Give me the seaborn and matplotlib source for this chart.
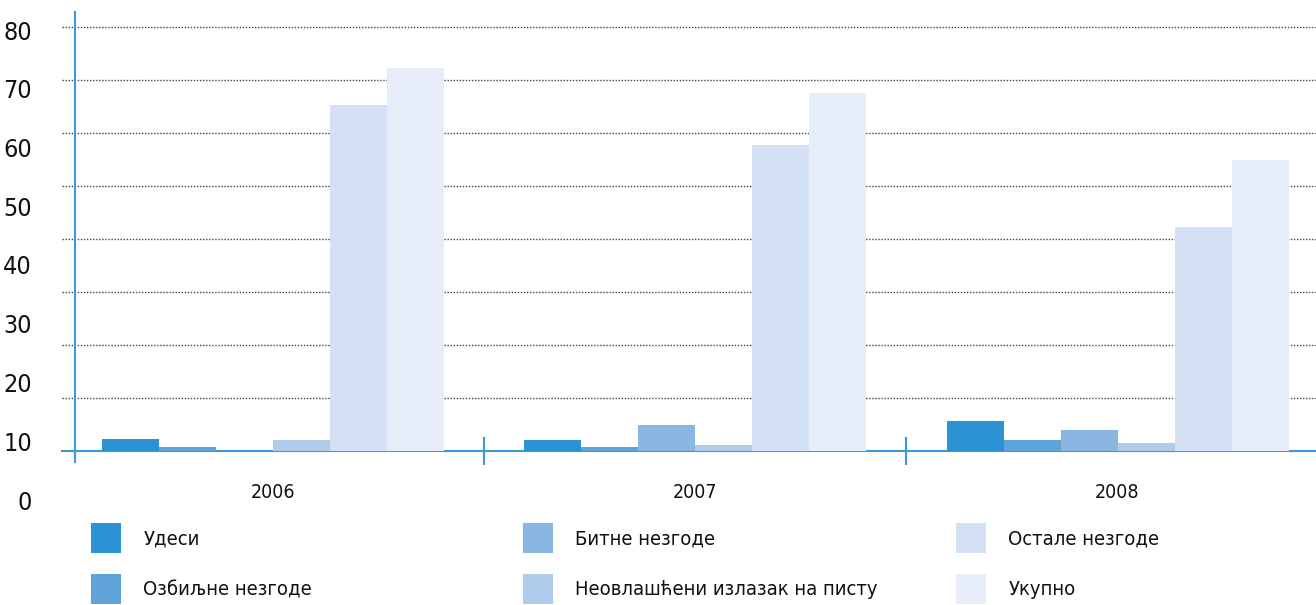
import numpy as np
import pandas as pd
import matplotlib
matplotlib.use("Agg")
import matplotlib.pyplot as plt
from matplotlib.patches import Patch
import seaborn as sns

years = ["2006", "2007", "2008"]
series = ["Удеси", "Озбиљне незгоде", "Битне незгоде",
          "Неовлашћени излазак на писту", "Остале незгоде", "Укупно"]
udesi = [2.3, 2.1, 5.7]
ozbiljne = [0.8, 0.8, 2.1]
bitne = [0.0, 4.9, 4.0]
neovlasceni = [2.0, 1.1, 1.5]
ostale = [65.3, 57.7, 42.3]
ukupno = [72.3, 67.5, 54.9]
ytick_values = [0, 10, 20, 30, 40, 50, 60, 70, 80]
colors = ["#2b93d4", "#60a3d9", "#8ab6e2", "#aecbeb", "#d4e1f4", "#e6edf8"]

values = [udesi, ozbiljne, bitne, neovlasceni, ostale, ukupno]
df = pd.DataFrame([(y, s, v[i]) for s, v in zip(series, values) for i, y in enumerate(years)],
                  columns=["year", "series", "value"])

sns.set_theme(style="white")
plt.rcParams["font.family"] = ["Liberation Sans Narrow", "DejaVu Sans"]
plt.rcParams["font.stretch"] = "condensed"
text_color = "#111111"
blue = "#3a9ad9"

W, H = 1316, 605
fig = plt.figure(figsize=(W / 100, H / 100), dpi=100)
ax = fig.add_axes([62 / W, 1 - 462 / H, 1254 / W, 450 / H])

sns.barplot(data=df, x="year", y="value", hue="series", hue_order=series,
            order=years, palette=colors, saturation=1, width=0.81,
            linewidth=0, errorbar=None, legend=False, ax=ax)

ax.set_xlim(-0.5, 2.47)
ax.set_ylim(-2.075, 82.83)
ax.set_yticks(range(10, 90, 10))
ax.yaxis.grid(True, linestyle=(0, (1, 1.2)), color="#444444", linewidth=1.0)
ax.xaxis.grid(False)
ax.set_axisbelow(True)
ax.tick_params(axis="y", left=False, labelleft=False)
ax.set_xlabel("")
ax.set_ylabel("")
for s in ["top", "right"]:
    ax.spines[s].set_visible(False)
ax.spines["left"].set_position(("data", -0.47))
ax.spines["left"].set_color(blue)
ax.spines["left"].set_linewidth(1.5)
ax.spines["bottom"].set_position(("data", 0))
ax.spines["bottom"].set_color(blue)
ax.spines["bottom"].set_linewidth(1.5)
ax.spines["bottom"].set_zorder(0.9)
ax.set_xticks([0.5, 1.5], minor=True)
ax.tick_params(axis="x", which="major", length=0, pad=23, labelsize=14, labelcolor=text_color)
for lbl in ax.get_xticklabels():
    lbl.set_fontweight("medium")
ax.tick_params(axis="x", which="minor", direction="inout", length=20, width=1.5, color=blue, bottom=True)

# y-axis labels (drawn on their own scale, as in the original)
ax2 = fig.add_axes([32 / W, 1 - 500 / H, 0.001, 470 / H])
ax2.set_ylim(0, 80)
ax2.set_yticks(ytick_values)
ax2.set_yticklabels([str(v) for v in ytick_values])
ax2.tick_params(axis="y", length=0, pad=0, labelsize=18, labelcolor=text_color)
ax2.set_xticks([])
ax2.patch.set_visible(False)
for s in ax2.spines.values():
    s.set_visible(False)

# legend: three columns
col_x = [91, 523, 956]
for c in range(3):
    handles = [Patch(facecolor=colors[2 * c + r], edgecolor="none") for r in range(2)]
    labels = [series[2 * c + r] for r in range(2)]
    fig.legend(handles, labels, loc="upper left", bbox_to_anchor=(col_x[c] / W, 1 - 523 / H),
               frameon=False, fontsize=14.5, handlelength=1.5, handleheight=1.9,
               handletextpad=1.1, labelspacing=1.05, borderpad=0, borderaxespad=0,
               labelcolor=text_color)

fig.savefig("out.png", dpi=100)
